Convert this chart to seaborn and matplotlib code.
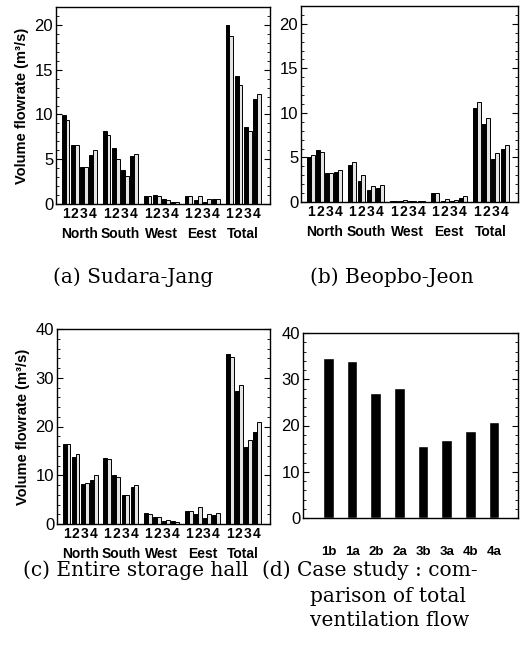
import numpy as np
import pandas as pd
import matplotlib
matplotlib.use("Agg")
import matplotlib.pyplot as plt
import seaborn as sns
from matplotlib.ticker import MultipleLocator

sns.set_style("ticks")
plt.rcParams["font.family"] = ["Liberation Sans", "DejaVu Sans"]
for k in ["text.color", "axes.labelcolor", "xtick.color", "ytick.color", "axes.edgecolor"]:
    plt.rcParams[k] = "black"

# ---------------- data ----------------
directions = ["North", "South", "West", "Eest", "Total"]
cases = ["1", "2", "3", "4"]

sudara_black = [9.9, 6.6, 4.1, 5.5,
                8.1, 6.2, 3.8, 5.4,
                0.9, 1.0, 0.6, 0.2,
                0.9, 0.5, 0.2, 0.6,
                20.0, 14.3, 8.6, 11.7]
sudara_dotted = [9.4, 6.6, 4.1, 6.0,
                 7.7, 5.0, 3.1, 5.6,
                 0.9, 0.9, 0.5, 0.2,
                 0.9, 0.9, 0.6, 0.6,
                 18.8, 13.3, 8.1, 12.3]

beopbo_black = [5.0, 5.8, 3.3, 3.4,
                4.2, 2.4, 1.3, 1.6,
                0.1, 0.1, 0.1, 0.1,
                1.0, 0.1, 0.1, 0.5,
                10.6, 8.8, 4.8, 6.0]
beopbo_dotted = [5.3, 5.6, 3.3, 3.6,
                 4.5, 3.0, 1.8, 1.9,
                 0.1, 0.2, 0.1, 0.1,
                 1.0, 0.3, 0.2, 0.7,
                 11.2, 9.4, 5.5, 6.4]

entire_black = [16.5, 13.8, 8.2, 9.0,
                13.6, 10.0, 5.9, 7.5,
                2.3, 1.5, 0.7, 0.6,
                2.6, 2.1, 1.2, 1.9,
                34.8, 27.2, 15.8, 18.9]
entire_dotted = [16.4, 14.3, 8.5, 10.1,
                 13.3, 9.7, 5.9, 8.1,
                 2.1, 1.5, 0.9, 0.5,
                 2.6, 3.4, 2.1, 2.2,
                 34.2, 28.5, 17.2, 20.9]

case_labels = ["1b", "1a", "2b", "2a", "3b", "3a", "4b", "4a"]
case_totals = [34.7, 34.0, 27.0, 28.2, 15.5, 16.9, 18.8, 20.7]

# ---------------- layout helpers ----------------
W, H = 522, 653
GROUP_STEP = 4.5

fig = plt.figure(figsize=(W / 100, H / 100), dpi=100)


def add_ax(l, r, t, b):
    return fig.add_axes([l / W, 1 - b / H, (r - l) / W, (b - t) / H])


def make_df(black, dotted):
    rows = []
    for gi, d in enumerate(directions):
        for ci, c in enumerate(cases):
            k = gi * 4 + ci
            pos = gi * GROUP_STEP + ci
            rows.append({"pos": pos, "series": "black", "value": black[k]})
            rows.append({"pos": pos, "series": "dotted", "value": dotted[k]})
    return pd.DataFrame(rows)


def style_y(ax, ymax, major, minor):
    ax.set_ylim(0, ymax)
    ax.yaxis.set_major_locator(MultipleLocator(major))
    ax.yaxis.set_minor_locator(MultipleLocator(minor))
    ax.tick_params(axis="y", which="both", direction="in", left=True, right=True,
                   labelsize=12, pad=2)
    ax.tick_params(axis="y", which="major", length=4, width=0.8)
    ax.tick_params(axis="y", which="minor", length=2, width=0.6)
    for s in ax.spines.values():
        s.set_visible(True)
        s.set_linewidth(1.0)
        s.set_color("black")


def flow_panel(ax, black, dotted, ymax, major, minor, ylabel):
    df = make_df(black, dotted)
    sns.barplot(data=df, x="pos", y="value", hue="series", native_scale=True,
                palette={"black": "black", "dotted": "#e4e4e4"},
                edgecolor="black", linewidth=0.7, width=0.86, dodge=True,
                errorbar=None, legend=False, ax=ax)
    ticks = [gi * GROUP_STEP + ci for gi in range(len(directions)) for ci in range(len(cases))]
    ax.set_xticks(ticks)
    ax.set_xticklabels(cases * len(directions), fontweight="bold", fontsize=10)
    ax.tick_params(axis="x", length=0, pad=2)
    ax.set_xlim(-1.05, (len(directions) - 1) * GROUP_STEP + 3 + 1.45)
    for gi, d in enumerate(directions):
        ax.annotate(d, xy=(gi * GROUP_STEP + 1.5, 0), xycoords=("data", "axes fraction"),
                    xytext=(0, -21.5), textcoords="offset points", ha="center", va="center",
                    fontsize=10, fontweight="bold")
    ax.set_xlabel("")
    if ylabel:
        ax.set_ylabel("Volume flowrate (m³/s)", fontsize=10.5, fontweight="bold", labelpad=4)
    else:
        ax.set_ylabel("")
    style_y(ax, ymax, major, minor)


ax_a = add_ax(56, 270, 7, 204)
flow_panel(ax_a, sudara_black, sudara_dotted, 22, 5, 1, True)

ax_b = add_ax(301, 518, 6, 202)
flow_panel(ax_b, beopbo_black, beopbo_dotted, 22, 5, 1, False)

ax_c = add_ax(57, 270, 329, 524)
flow_panel(ax_c, entire_black, entire_dotted, 40, 10, 2, True)

ax_d = add_ax(303, 518, 333, 518)
sns.barplot(x=case_labels, y=case_totals, color="black", width=0.45,
            errorbar=None, ax=ax_d, saturation=1)
ax_d.set_xlim(-1.08, 8.02)
ax_d.set_xticks(range(len(case_labels)))
ax_d.set_xticklabels(case_labels, fontweight="bold", fontsize=9.5)
ax_d.tick_params(axis="x", length=0, pad=20)
style_y(ax_d, 40, 10, 2)

# ---------------- captions ----------------
cap = dict(fontsize=14.5, family=["DejaVu Serif"], va="center")
fig.text(53 / W, 1 - 277 / H, "(a) Sudara-Jang", ha="left", **cap)
fig.text(310 / W, 1 - 277 / H, "(b) Beopbo-Jeon", ha="left", **cap)
fig.text(23 / W, 1 - 570 / H, "(c) Entire storage hall", ha="left", **cap)
fig.text(262 / W, 1 - 570 / H, "(d) Case study : com-", ha="left", **cap)
fig.text(310 / W, 1 - 596 / H, "parison of total", ha="left", **cap)
fig.text(310 / W, 1 - 621 / H, "ventilation flow", ha="left", **cap)

fig.savefig("out.png", dpi=100, facecolor="white")
